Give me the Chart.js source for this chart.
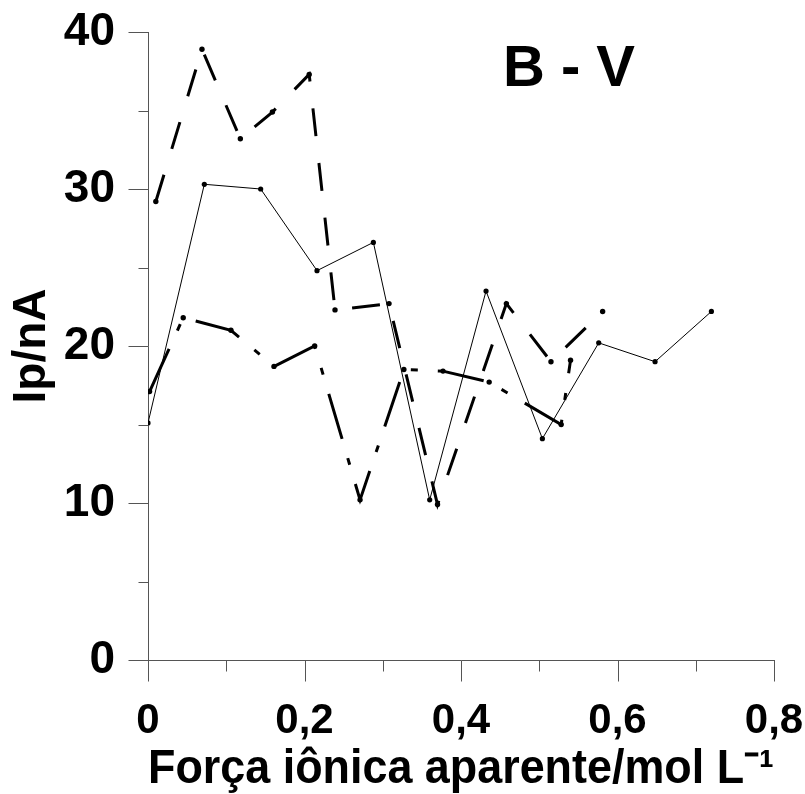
<!DOCTYPE html>
<html>
<head>
<meta charset="utf-8">
<script src="https://cdn.jsdelivr.net/npm/chart.js@4.4.1/dist/chart.umd.min.js"></script>
<style>
html,body{margin:0;padding:0;background:#ffffff;}
canvas{display:block;}
</style>
</head>
<body>
<canvas id="c" width="805" height="794"></canvas>
<script>
// ---- data ----
const solidX   = [0.000, 0.072, 0.144, 0.216, 0.288, 0.360, 0.432, 0.504, 0.576, 0.648, 0.720];
const solidY   = [15.1, 30.3, 30.0, 24.8, 26.6, 10.2, 23.5, 14.1, 20.2, 19.0, 22.2];

const dashedX  = [0.010, 0.069, 0.118, 0.159, 0.206, 0.239, 0.308, 0.370, 0.458, 0.515, 0.581];
const dashedY  = [29.2, 38.9, 33.2, 34.9, 37.3, 22.3, 22.7, 9.9, 22.7, 19.0, 22.2];

const dashdotX = [0.002, 0.045, 0.106, 0.161, 0.213, 0.271, 0.327, 0.377, 0.436, 0.528, 0.540];
const dashdotY = [17.1, 21.8, 21.0, 18.7, 20.0, 10.2, 18.5, 18.4, 17.7, 15.0, 19.1];

const xTicks = [0, 0.2, 0.4, 0.6, 0.8];
const xTickLabels = ['0', '0,2', '0,4', '0,6', '0,8'];
const xMinorTicks = [0.1, 0.3, 0.5, 0.7];
const yTicks = [0, 10, 20, 30, 40];
const yTickLabels = ['0', '10', '20', '30', '40'];
const yMinorTicks = [5, 15, 25, 35];

const chartTitle = 'B - V';
const xTitle = 'Força iônica aparente/mol L\u207B\u00B9';
const yTitle = 'Ip/nA';

function pts(xs, ys) { return xs.map((x, i) => ({ x: x, y: ys[i] })); }

const FONT = '"Liberation Sans", Arial, sans-serif';

function noOverhang(s) { s.paddingTop = 0; s.paddingBottom = 0; s.paddingLeft = 0; s.paddingRight = 0; }

const tickPlugin = {
  id: 'tickMarks',
  afterDraw(chart) {
    const ctx = chart.ctx;
    const xs = chart.scales.x, ys = chart.scales.y;
    const left = Math.round(xs.left) + 0.5;
    const bottom = Math.round(ys.bottom) + 0.5;
    ctx.save();
    ctx.strokeStyle = '#555555';
    ctx.lineWidth = 1;
    ctx.beginPath();
    yTicks.forEach(v => { const p = Math.round(ys.getPixelForValue(v)) + 0.5; ctx.moveTo(left - 20, p); ctx.lineTo(left, p); });
    yMinorTicks.forEach(v => { const p = Math.round(ys.getPixelForValue(v)) + 0.5; ctx.moveTo(left - 10, p); ctx.lineTo(left, p); });
    xTicks.forEach(v => { const p = Math.round(xs.getPixelForValue(v)) + 0.5; ctx.moveTo(p, bottom); ctx.lineTo(p, bottom + 21); });
    xMinorTicks.forEach(v => { const p = Math.round(xs.getPixelForValue(v)) + 0.5; ctx.moveTo(p, bottom); ctx.lineTo(p, bottom + 11); });
    ctx.stroke();
    // panel title
    ctx.fillStyle = '#000000';
    ctx.font = 'bold 58px ' + FONT;
    ctx.textAlign = 'center';
    ctx.textBaseline = 'alphabetic';
    ctx.fillText(chartTitle, 569, 86);
    ctx.restore();
  }
};

new Chart(document.getElementById('c'), {
  type: 'scatter',
  data: {
    datasets: [
      {
        data: pts(solidX, solidY), showLine: true, borderColor: '#000', borderWidth: 1,
        pointRadius: 2.6, pointBorderWidth: 0, pointBackgroundColor: '#000', tension: 0
      },
      {
        data: pts(dashedX, dashedY), showLine: true, borderColor: '#000', borderWidth: 3,
        borderDash: [28, 27], pointRadius: 2.7, pointBorderWidth: 0, pointBackgroundColor: '#000', tension: 0
      },
      {
        data: pts(dashdotX, dashdotY), showLine: true, borderColor: '#000', borderWidth: 3,
        borderDash: [47, 20, 7, 20], pointRadius: 2.7, pointBorderWidth: 0, pointBackgroundColor: '#000', tension: 0
      }
    ]
  },
  options: {
    responsive: false,
    animation: false,
    layout: { padding: { left: 0, right: 31, top: 32, bottom: 0 } },
    plugins: { legend: { display: false }, tooltip: { enabled: false }, title: { display: false } },
    scales: {
      x: {
        type: 'linear', min: 0, max: 0.8,
        afterBuildTicks: s => { s.ticks = xTicks.map(v => ({ value: v })); },
        afterFit: s => { s.height = 134; noOverhang(s); },
        ticks: {
          autoSkip: false, maxRotation: 0, minRotation: 0, padding: 36, color: '#000',
          font: { family: FONT, size: 42, weight: 'bold', lineHeight: 1.2 },
          callback: v => { const i = xTicks.findIndex(t => Math.abs(t - v) < 1e-9); return i >= 0 ? xTickLabels[i] : ''; }
        },
        grid: { display: true, drawOnChartArea: false, drawTicks: false },
        border: { display: true, color: '#555555', width: 1 },
        title: {
          display: true, text: xTitle, color: '#000',
          font: { family: FONT, size: 48, weight: 'bold', lineHeight: 1 },
          padding: { top: 0, bottom: 0 }
        }
      },
      y: {
        type: 'linear', min: 0, max: 40,
        afterBuildTicks: s => { s.ticks = yTicks.map(v => ({ value: v })); },
        afterFit: s => { s.width = 148; noOverhang(s); },
        ticks: {
          autoSkip: false, padding: 33, color: '#000',
          font: { family: FONT, size: 46, weight: 'bold', lineHeight: 1.2 },
          callback: v => { const i = yTicks.indexOf(v); return i >= 0 ? yTickLabels[i] : ''; }
        },
        grid: { display: true, drawOnChartArea: false, drawTicks: false },
        border: { display: true, color: '#555555', width: 1 },
        title: {
          display: true, text: yTitle, color: '#000',
          font: { family: FONT, size: 46, weight: 'bold', lineHeight: 1 },
          padding: { top: 9, bottom: 0 }
        }
      }
    }
  },
  plugins: [tickPlugin]
});
</script>
</body>
</html>
